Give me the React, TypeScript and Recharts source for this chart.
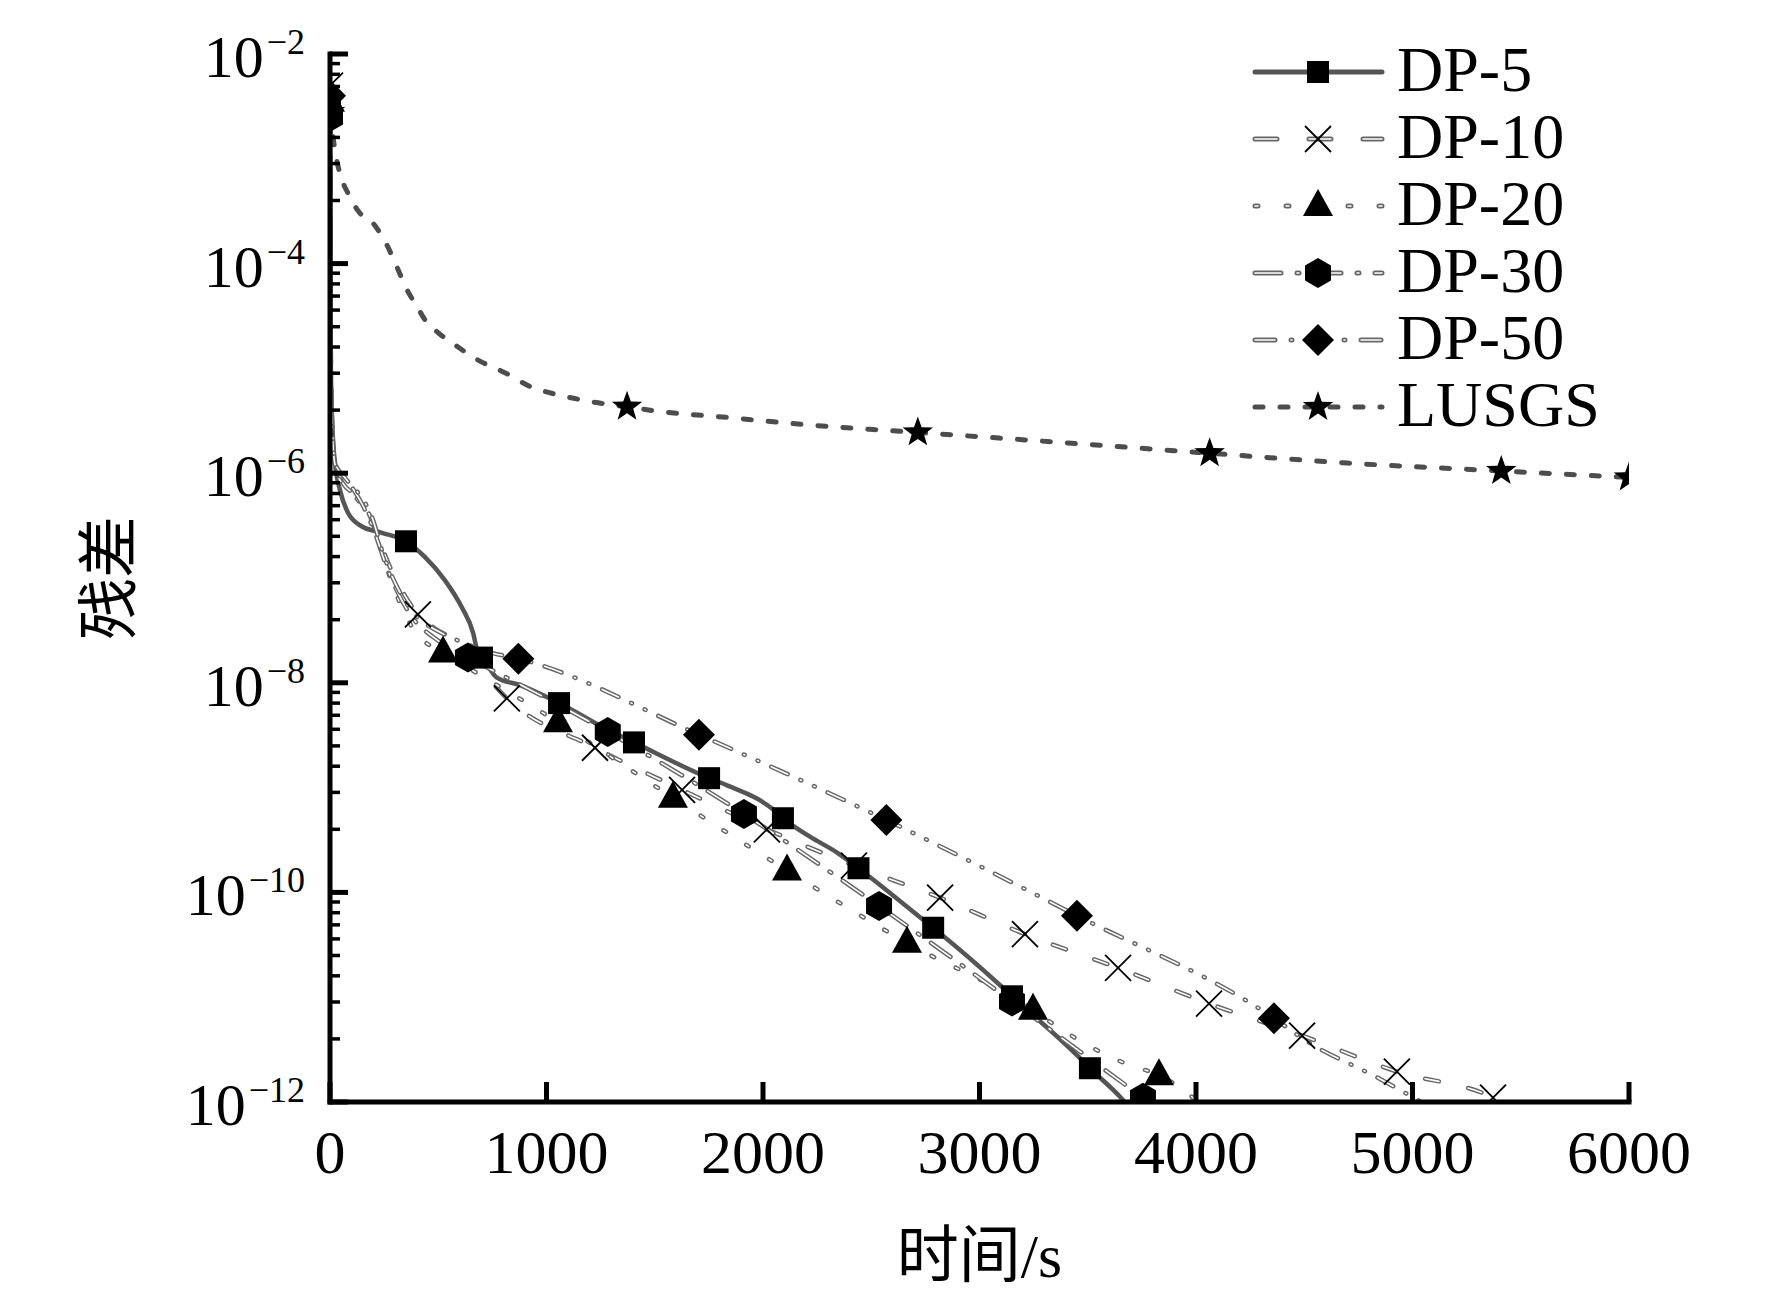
import React from "react";
import { ComposedChart, Line, Scatter, XAxis, YAxis, Legend, Label } from "recharts";

type Pt = [number, number];

// 布局常量
const W = 1772;
const H = 1297;
const PLOT_LEFT = 330;
const PLOT_TOP = 54;
const PLOT_RIGHT = 1629;
const PLOT_BOTTOM = 1102;
const SERIF = "'Liberation Serif', 'Times New Roman', 'Noto Sans CJK SC', serif";

// 坐标轴刻度
const xTicks = [0, 1000, 2000, 3000, 4000, 5000, 6000];
const majorExps = [-2, -4, -6, -8, -10, -12];
const minorSteps = [4, 9, 16, 25, 36, 49, 64, 81];

const seriesNames = ["DP-5", "DP-10", "DP-20", "DP-30", "DP-50", "LUSGS"];

// 残差曲线 [时间, 残差]
const dp5Curve: Pt[] = [
  [0, 3e-3], [4, 1e-5], [12, 2.5e-6], [23, 1.26e-6], [46, 6.9e-7], [83, 4.2e-7],
  [148, 3.1e-7], [240, 2.7e-7], [351, 2.24e-7], [439, 1.58e-7], [531, 9.5e-8],
  [610, 5.2e-8], [661, 3.0e-8], [684, 1.9e-8], [702, 1.74e-8], [771, 1.12e-8],
  [878, 9.5e-9], [1058, 6.4e-9], [1279, 3.6e-9], [1404, 2.7e-9], [1751, 1.23e-9],
  [1834, 1.05e-9], [2046, 6.2e-10], [2092, 5.1e-10], [2217, 3.4e-10], [2342, 2.4e-10],
  [2441, 1.7e-10], [2725, 5.8e-11], [2786, 4.6e-11], [3095, 1.3e-11], [3150, 1.02e-11],
  [3450, 2.8e-12], [3510, 2.1e-12], [3649, 1.12e-12], [3690, 9e-13],
];
const dp5Marks: Pt[] = [
  [0, 3e-3], [351, 2.24e-7], [702, 1.74e-8], [1058, 6.4e-9], [1404, 2.7e-9],
  [1751, 1.23e-9], [2092, 5.1e-10], [2441, 1.7e-10], [2786, 4.6e-11],
  [3150, 1.02e-11], [3510, 2.1e-12],
];

const dp10Curve: Pt[] = [
  [0, 5e-3], [4, 1.2e-5], [12, 2.4e-6], [25, 1.15e-6], [60, 8e-7], [115, 6.2e-7],
  [175, 4.3e-7], [230, 2.2e-7], [291, 1.1e-7], [346, 6.8e-8], [406, 4.5e-8],
  [485, 3.3e-8], [568, 2.6e-8], [700, 1.3e-8], [817, 7.1e-9], [1224, 2.4e-9],
  [1626, 9.5e-10], [2018, 4.0e-10], [2420, 1.8e-10], [2818, 8.9e-11], [3210, 4.0e-11],
  [3640, 1.9e-11], [4060, 8.7e-12], [4490, 4.3e-12], [4928, 1.95e-12],
  [5372, 1.1e-12], [5450, 9e-13],
];
const dp10Marks: Pt[] = [
  [0, 5e-3], [406, 4.5e-8], [817, 7.1e-9], [1224, 2.4e-9], [1626, 9.5e-10],
  [2018, 4.0e-10], [2420, 1.8e-10], [2818, 8.9e-11], [3210, 4.0e-11], [3640, 1.9e-11],
  [4060, 8.7e-12], [4490, 4.3e-12], [4928, 1.95e-12], [5372, 1.1e-12],
];

const dp20Curve: Pt[] = [
  [0, 3.5e-3], [4, 1e-5], [12, 2.3e-6], [22, 1.1e-6], [70, 7.5e-7], [130, 5.5e-7],
  [190, 3.5e-7], [245, 1.6e-7], [290, 8.5e-8], [333, 5.2e-8], [383, 3.3e-8],
  [425, 2.6e-8], [522, 1.95e-8], [1053, 4.2e-9], [1584, 8e-10], [2111, 1.62e-10],
  [2665, 3.3e-11], [3247, 7.6e-12], [3349, 5.4e-12], [3681, 2.3e-12], [3829, 1.8e-12],
  [3958, 1.23e-12], [4030, 9e-13],
];
const dp20Marks: Pt[] = [
  [0, 3.5e-3], [522, 1.95e-8], [1053, 4.2e-9], [1584, 8e-10], [2111, 1.62e-10],
  [2665, 3.3e-11], [3247, 7.6e-12], [3829, 1.8e-12],
];

const dp30Curve: Pt[] = [
  [0, 2.5e-3], [4, 1e-5], [12, 2.2e-6], [24, 1.2e-6], [80, 8.5e-7], [150, 5e-7],
  [210, 2.6e-7], [260, 1.3e-7], [310, 7.5e-8], [380, 4.2e-8], [480, 2.7e-8],
  [560, 2.1e-8], [637, 1.74e-8], [1283, 3.4e-9], [1912, 5.6e-10], [2536, 7.4e-11],
  [3150, 9.1e-12], [3755, 1.1e-12], [3830, 8.5e-13],
];
const dp30Marks: Pt[] = [
  [0, 2.5e-3], [637, 1.74e-8], [1283, 3.4e-9], [1912, 5.6e-10], [2536, 7.4e-11],
  [3150, 9.1e-12], [3755, 1.1e-12],
];

const dp50Curve: Pt[] = [
  [0, 4e-3], [4, 1.1e-5], [12, 2.4e-6], [24, 1.25e-6], [70, 9e-7], [130, 6.5e-7],
  [190, 4e-7], [250, 1.6e-7], [320, 7.5e-8], [400, 4.3e-8], [500, 3.1e-8],
  [620, 2.4e-8], [740, 1.95e-8], [870, 1.7e-8], [1704, 3.2e-9], [2570, 4.9e-10],
  [3450, 6e-11], [4360, 6.3e-12], [4503, 3.9e-12], [4850, 1.66e-12], [5060, 9.5e-13],
];
const dp50Marks: Pt[] = [
  [0, 4e-3], [870, 1.7e-8], [1704, 3.2e-9], [2570, 4.9e-10], [3450, 6e-11], [4360, 6.3e-12],
];

const lusgsCurve: Pt[] = [
  [0, 2.8e-3], [23, 1.2e-3], [46, 7.2e-4], [83, 4.7e-4], [129, 3.2e-4], [208, 2.3e-4],
  [263, 1.5e-4], [309, 9.3e-5], [356, 5.6e-5], [402, 3.9e-5], [439, 2.9e-5],
  [499, 2.2e-5], [591, 1.6e-5], [684, 1.2e-5], [808, 9.1e-6], [933, 6.6e-6],
  [1053, 5.6e-6], [1210, 4.8e-6], [1372, 4.3e-6], [1515, 3.9e-6], [1838, 3.4e-6],
  [2200, 2.9e-6], [2715, 2.45e-6], [3400, 1.95e-6], [4063, 1.55e-6], [4700, 1.25e-6],
  [5410, 1.05e-6], [6000, 9.1e-7],
];
const lusgsMarks: Pt[] = [
  [0, 2.8e-3], [1372, 4.3e-6], [2715, 2.45e-6], [4063, 1.55e-6], [5410, 1.05e-6], [6000, 9.1e-7],
];

// 对数轴刻度：主刻度 10^-2 … 10^-12，次刻度在每两个数量级内按 k² 分布
const yTicks: number[] = [
  ...majorExps.map((e) => Math.pow(10, e)),
  ...majorExps
    .filter((e) => e < -2)
    .flatMap((e) => minorSteps.map((m) => Number((m * Math.pow(10, e)).toPrecision(6)))),
].sort((a, b) => a - b);

const toRows = (pts: Pt[]) => pts.map(([x, y]) => ({ x, y }));

type MarkKind = "square" | "cross" | "triangle" | "hexagon" | "diamond" | "star";

const seriesStyle = [
  { curve: dp5Curve, marks: dp5Marks, kind: "square" as MarkKind, color: "#555", width: 4.5, dash: undefined as string | undefined, hollow: false, legendDash: undefined as string | undefined },
  { curve: dp10Curve, marks: dp10Marks, kind: "cross" as MarkKind, color: "#666", width: 4.5, dash: "14 30", hollow: true, legendDash: "22 32" },
  { curve: dp20Curve, marks: dp20Marks, kind: "triangle" as MarkKind, color: "#666", width: 4.5, dash: "3 24", hollow: true, legendDash: "3 28" },
  { curve: dp30Curve, marks: dp30Marks, kind: "hexagon" as MarkKind, color: "#666", width: 4.5, dash: "24 14 2 14", hollow: true, legendDash: "26 16 2 16" },
  { curve: dp50Curve, marks: dp50Marks, kind: "diamond" as MarkKind, color: "#666", width: 4.5, dash: "18 14 1 14 1 14", hollow: true, legendDash: "20 16 1 16" },
  { curve: lusgsCurve, marks: lusgsMarks, kind: "star" as MarkKind, color: "#4d4d4d", width: 5, dash: "8 17", hollow: false, legendDash: "8 17" },
];

function starPoints(cx: number, cy: number, R: number, r: number) {
  const pts: string[] = [];
  for (let i = 0; i < 10; i++) {
    const a = -Math.PI / 2 + (i * Math.PI) / 5;
    const rad = i % 2 === 0 ? R : r;
    pts.push(`${cx + rad * Math.cos(a)},${cy + rad * Math.sin(a)}`);
  }
  return pts.join(" ");
}

function hexPoints(cx: number, cy: number, r: number) {
  const pts: string[] = [];
  for (let i = 0; i < 6; i++) {
    const a = -Math.PI / 2 + (i * Math.PI) / 3;
    pts.push(`${cx + r * Math.cos(a)},${cy + r * Math.sin(a)}`);
  }
  return pts.join(" ");
}

function Marker({ kind, cx, cy }: { kind: MarkKind; cx: number; cy: number }) {
  if (cx == null || cy == null || isNaN(cx) || isNaN(cy)) return null;
  switch (kind) {
    case "square":
      return <rect x={cx - 11} y={cy - 11} width={22} height={22} fill="#000" />;
    case "cross":
      return (
        <g stroke="#000" strokeWidth={1.8}>
          <line x1={cx - 13} y1={cy - 13} x2={cx + 13} y2={cy + 13} />
          <line x1={cx - 13} y1={cy + 13} x2={cx + 13} y2={cy - 13} />
        </g>
      );
    case "triangle":
      return <polygon points={`${cx},${cy - 17} ${cx - 15},${cy + 10} ${cx + 15},${cy + 10}`} fill="#000" />;
    case "hexagon":
      return <polygon points={hexPoints(cx, cy, 15)} fill="#000" />;
    case "diamond":
      return <polygon points={`${cx},${cy - 16} ${cx + 16},${cy} ${cx},${cy + 16} ${cx - 16},${cy}`} fill="#000" />;
    case "star":
      return <polygon points={starPoints(cx, cy, 16, 6.5)} fill="#000" />;
  }
  return null;
}

function YTick(props: any) {
  const { x, y, payload } = props;
  const v = payload.value;
  const lg = Math.log10(v);
  const e = Math.round(lg);
  const major = Math.abs(lg - e) < 1e-6 && majorExps.includes(e);
  if (!major) {
    return <line x1={x} x2={x + 10} y1={y} y2={y} stroke="#000" strokeWidth={3.5} />;
  }
  return (
    <g>
      <line x1={x} x2={x + 18} y1={y} y2={y} stroke="#000" strokeWidth={5} />
      <text x={x - 25} y={y + 23} textAnchor="end" fontFamily={SERIF} fill="#000">
        <tspan fontSize={60}>10</tspan>
        <tspan fontSize={36} dx={3} dy={-23}>{`\u2212${-e}`}</tspan>
      </text>
    </g>
  );
}

function XTick(props: any) {
  const { x, y, payload } = props;
  return (
    <g>
      <line x1={x} x2={x} y1={y} y2={y - 20} stroke="#000" strokeWidth={5} />
      <text x={x} y={y + 71} textAnchor="middle" fontSize={62} fontFamily={SERIF} fill="#000">
        {payload.value}
      </text>
    </g>
  );
}

const LEG_LEFT = 1240;
const LEG_TOP = 30;

function LegendBox() {
  return (
    <svg width={480} height={420} style={{ overflow: "visible" }}>
      {seriesStyle.map((s, i) => {
        const cy = 42 + i * 67;
        return (
          <g key={seriesNames[i]}>
            <line x1={15} x2={142} y1={cy} y2={cy} stroke={s.color} strokeWidth={5}
              strokeDasharray={s.legendDash} strokeLinecap="round" />
            {s.hollow && (
              <line x1={15} x2={142} y1={cy} y2={cy} stroke="#fff" strokeWidth={1.6}
                strokeDasharray={s.legendDash} strokeLinecap="round" />
            )}
            <Marker kind={s.kind} cx={78} cy={cy} />
            <text x={157} y={cy + 19} fontSize={64} fontFamily={SERIF} fill="#000">
              {seriesNames[i]}
            </text>
          </g>
        );
      })}
    </svg>
  );
}

export default function App() {
  return (
    <div style={{ width: W, height: H, background: "#fff" }}>
      <style>{`body{margin:0;background:#fff;}`}</style>
      <ComposedChart
        width={W}
        height={H}
        margin={{ top: PLOT_TOP, right: W - PLOT_RIGHT, bottom: H - PLOT_BOTTOM - 150, left: PLOT_LEFT - 260 }}
      >
        <XAxis
          type="number"
          dataKey="x"
          domain={[0, 6000]}
          ticks={xTicks}
          interval={0}
          allowDataOverflow
          height={150}
          axisLine={{ stroke: "#000", strokeWidth: 5, strokeLinecap: "square" }}
          tickLine={false}
          tickSize={0}
          tickMargin={0}
          tick={(p: any) => <XTick {...p} />}
        >
          <Label
            content={() => (
              <text x={(PLOT_LEFT + PLOT_RIGHT) / 2} y={1277} textAnchor="middle" fontSize={62} fontFamily={SERIF} fill="#000">
                时间/s
              </text>
            )}
          />
        </XAxis>
        <YAxis
          type="number"
          dataKey="y"
          scale="log"
          domain={[1e-12, 1e-2]}
          ticks={yTicks}
          interval={0}
          allowDataOverflow
          width={260}
          axisLine={{ stroke: "#000", strokeWidth: 5, strokeLinecap: "square" }}
          tickLine={false}
          tickSize={0}
          tickMargin={0}
          tick={(p: any) => <YTick {...p} />}
        >
          <Label
            content={() => (
              <text
                x={110}
                y={(PLOT_TOP + PLOT_BOTTOM) / 2}
                textAnchor="middle"
                dominantBaseline="central"
                fontSize={62}
                fontFamily={SERIF}
                fill="#000"
                transform={`rotate(-90 110 ${(PLOT_TOP + PLOT_BOTTOM) / 2})`}
              >
                残差
              </text>
            )}
          />
        </YAxis>

        {seriesStyle.flatMap((s, i) => {
          const rows = toRows(s.curve);
          const items = [
            <Line
              key={`l-${i}`}
              data={rows}
              dataKey="y"
              type="monotone"
              stroke={s.color}
              strokeWidth={s.width}
              strokeDasharray={s.dash}
              strokeLinecap="round"
              strokeLinejoin="round"
              dot={false}
              activeDot={false}
              isAnimationActive={false}
            />,
          ];
          if (s.hollow) {
            items.push(
              <Line
                key={`w-${i}`}
                data={rows}
                dataKey="y"
                type="monotone"
                stroke="#fff"
                strokeWidth={1.6}
                strokeDasharray={s.dash}
                strokeLinecap="round"
                dot={false}
                activeDot={false}
                isAnimationActive={false}
              />
            );
          }
          return items;
        })}

        {seriesStyle.map((s, i) => (
          <Scatter
            key={`m-${i}`}
            data={toRows(s.marks)}
            dataKey="y"
            isAnimationActive={false}
            shape={(p: any) => <Marker kind={s.kind} cx={p.cx} cy={p.cy} />}
          />
        ))}

        <Legend
          layout="horizontal"
          verticalAlign="middle"
          align="center"
          wrapperStyle={{ position: "absolute", left: LEG_LEFT, top: LEG_TOP, width: 480, height: 420 }}
          content={() => <LegendBox />}
        />
      </ComposedChart>
    </div>
  );
}
